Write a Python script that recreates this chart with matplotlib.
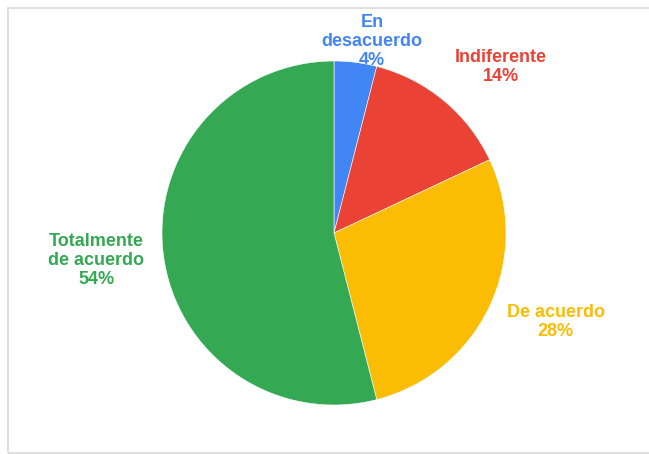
import numpy as np
import matplotlib.pyplot as plt
from matplotlib.patches import Rectangle

# datos
categorias = ['En\ndesacuerdo', 'Indiferente', 'De acuerdo', 'Totalmente\nde acuerdo']
porcentajes = [4, 14, 28, 54]
colores = ['#4285F4', '#EA4335', '#FBBC04', '#34A853']

W, H = 649, 454
fig = plt.figure(figsize=(W / 100, H / 100), dpi=100)
ax = fig.add_axes([0, 0, 1, 1])

# marco gris claro
fig.patches.append(Rectangle((8 / W, 1.5 / H), 1, (H - 9.5) / H, transform=fig.transFigure,
                             fill=False, edgecolor='#d9d9d9', linewidth=1.2))

centro = (334, H - 233)
radio = 172
wedges, _ = ax.pie(porcentajes, colors=colores, startangle=90, counterclock=False,
                   center=centro, radius=radio, frame=True,
                   wedgeprops=dict(edgecolor='white', linewidth=0.4))
ax.set_xlim(0, W)
ax.set_ylim(0, H)
ax.set_aspect('equal')
ax.axis('off')

# distancia y desplazamiento de cada etiqueta
dist = [1.12, 1.25, 1.22, 1.27]
dx = [14, 30, 32, -21]
for w, cat, p, c, d, ox in zip(wedges, categorias, porcentajes, colores, dist, dx):
    ang = np.deg2rad((w.theta1 + w.theta2) / 2)
    x = centro[0] + radio * d * np.cos(ang) + ox
    y = centro[1] + radio * d * np.sin(ang)
    ax.text(x, y, f'{cat}\n{p}%', color=c, ha='center', va='center',
            fontsize=13, fontweight='bold', family='Liberation Sans',
            linespacing=1.15, zorder=0.5)

fig.savefig('out.png', dpi=100)
